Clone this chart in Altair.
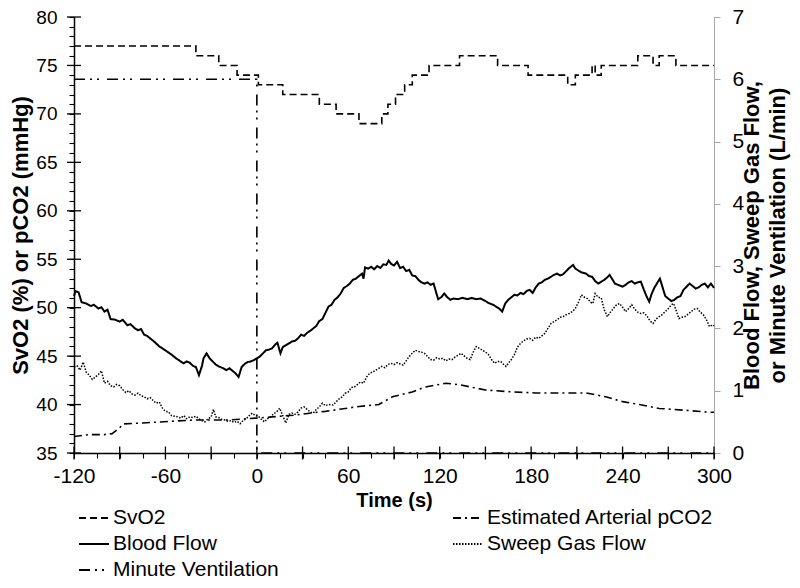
import altair as alt
import pandas as pd

# ---------------- data ----------------
series_order = ["SvO2", "Blood Flow", "Minute Ventilation", "Estimated Arterial pCO2", "Sweep Gas Flow"]
dash_ranges = [[7, 4], [1, 0], [11, 5, 2, 5, 2, 8], [8, 4, 2, 4], [1.5, 1.5]]

svo2_t = [-120, -40, -25, -13, 1, 17, 41, 52, 67, 82, 86, 91, 97, 102, 113, 133, 158, 178, 204, 209,
          220, 222, 226, 250, 260, 264, 275, 300]
svo2_v = [77, 76, 75, 74, 73, 72, 71, 70, 69, 70, 71, 72, 73, 74, 75, 76, 75, 74, 73, 74,
          75, 74, 75, 76, 75, 76, 75, 75]

pco2_t = [-120, -110, -100, -95, -90, -88, -75, -64, -42, -20, 0, 24, 45, 67, 80, 89, 102, 110, 124,
          133, 150, 168, 183, 205, 216, 229, 240, 251, 264, 282, 297, 300]
pco2_v = [36.7, 36.9, 36.9, 37.0, 37.6, 38.0, 38.1, 38.2, 38.4, 38.4, 38.6, 38.9, 39.3, 39.8, 40.0, 40.8,
          41.3, 41.8, 42.2, 42.05, 41.5, 41.3, 41.2, 41.2, 41.2, 40.8, 40.3, 40.0, 39.6, 39.4, 39.2, 39.2]

mv_t = [-120, 0, 0, 300]
mv_v = [6, 6, 0, 0]

blood_t = [-120, -119, -117, -115, -112, -109, -107, -104, -102, -100, -98, -96, -93, -90, -88, -85, -83,
           -80, -78, -76, -74, -72, -70, -67, -64, -62, -59, -56, -53, -50, -48, -46, -44, -42, -40, -38,
           -36, -35, -33, -31, -29, -27, -25, -22, -20, -18, -16, -14, -12, -10, -8, -6, -4, -2, 0, 2, 4,
           6, 8, 10, 12, 13.5, 15.5, 17, 19, 21, 23, 25, 27, 29, 31, 33, 35, 37, 39, 41, 43, 45, 47, 49,
           51, 53, 55, 57, 59, 61, 63, 65, 67, 69, 70, 71, 73, 75, 77, 79, 81, 83, 85, 86.5, 88, 90, 92,
           94, 96, 98, 100, 102, 104, 106, 108, 110, 112, 114, 116, 118, 119, 121, 123, 125, 127, 129,
           132, 135, 138, 141, 144, 147, 150, 152, 155, 157, 159, 161, 163, 165, 167, 169, 171, 173, 175,
           177, 179, 181, 183, 185, 187, 189, 191, 193, 195, 197, 199, 201, 203, 205, 207.5, 209, 211,
           213, 216, 218, 220, 222, 224, 226, 228, 230, 231.5, 233, 235, 237, 240, 242, 244, 246, 248,
           250, 252, 254, 256, 257.5, 259, 261, 263, 264.5, 266, 268, 270, 272, 274, 276, 278, 280, 282,
           284, 286, 288, 290, 292, 294, 296, 298, 300]
blood_v = [2.52, 2.60, 2.58, 2.42, 2.40, 2.36, 2.38, 2.32, 2.34, 2.27, 2.30, 2.15, 2.14, 2.11, 2.14, 2.05,
           2.07, 2.00, 1.97, 1.99, 1.90, 1.88, 1.84, 1.78, 1.71, 1.68, 1.63, 1.58, 1.52, 1.47, 1.44, 1.47,
           1.45, 1.40, 1.38, 1.25, 1.40, 1.52, 1.60, 1.52, 1.47, 1.42, 1.39, 1.36, 1.33, 1.36, 1.32, 1.28,
           1.22, 1.38, 1.43, 1.46, 1.47, 1.49, 1.52, 1.55, 1.60, 1.65, 1.66, 1.68, 1.74, 1.77, 1.60, 1.70,
           1.73, 1.76, 1.79, 1.80, 1.84, 1.90, 1.88, 1.93, 1.96, 2.00, 2.04, 2.12, 2.15, 2.25, 2.35, 2.38,
           2.46, 2.50, 2.56, 2.65, 2.68, 2.72, 2.78, 2.80, 2.84, 2.88, 2.80, 2.98, 2.96, 2.99, 2.95, 3.00,
           2.97, 3.03, 3.02, 3.09, 3.04, 3.01, 3.07, 2.97, 2.99, 2.92, 2.94, 2.85, 2.84, 2.78, 2.74, 2.72,
           2.74, 2.70, 2.72, 2.55, 2.47, 2.50, 2.56, 2.50, 2.46, 2.48, 2.47, 2.49, 2.47, 2.49, 2.47, 2.48,
           2.44, 2.41, 2.38, 2.35, 2.32, 2.27, 2.40, 2.46, 2.50, 2.54, 2.53, 2.57, 2.55, 2.60, 2.62, 2.57,
           2.66, 2.72, 2.74, 2.78, 2.80, 2.83, 2.86, 2.88, 2.85, 2.87, 2.92, 2.97, 3.02, 2.96, 2.93, 2.90,
           2.88, 2.84, 2.83, 2.76, 2.72, 2.75, 2.78, 2.82, 2.86, 2.80, 2.72, 2.70, 2.67, 2.70, 2.74, 2.76,
           2.72, 2.74, 2.75, 2.62, 2.50, 2.43, 2.55, 2.66, 2.74, 2.80, 2.68, 2.52, 2.48, 2.44, 2.46, 2.50,
           2.52, 2.62, 2.67, 2.72, 2.68, 2.64, 2.66, 2.70, 2.72, 2.66, 2.72, 2.65]

sweep_t = [-120, -118, -116, -114, -112, -110, -108, -106, -104, -102, -100, -98, -96, -94, -92, -90, -88,
           -86, -84, -82, -80, -78, -76, -74, -72, -70, -68, -66, -64, -62, -60, -58, -56, -54, -52, -50,
           -48, -46, -44, -42, -40, -38, -36, -34, -32, -30, -28.5, -27, -25, -23, -21, -19, -17, -15, -13,
           -11, -9, -7, -5, -3, -1, 1, 3, 5, 7, 9, 11, 13, 15, 17, 19, 21, 23, 25, 27, 29, 31, 33, 35, 37,
           39, 41, 43, 45, 47, 50, 52, 54, 56, 58, 60, 62, 64, 66, 68, 70, 72, 74, 76, 78, 80, 82, 84, 86,
           88, 90, 92, 94, 96, 98, 100, 102, 104, 106, 108, 110, 112, 114, 116, 118, 120, 122, 124, 126,
           128, 130, 132, 134, 136, 138, 140, 142, 144, 146, 148, 150, 152, 154, 156, 158, 160, 162, 163.5,
           165, 167, 169, 171, 173, 175, 177, 179, 181, 183, 185, 187, 189, 191, 193, 195, 197, 199, 201,
           203, 205, 207, 209, 211, 213, 215, 217, 219, 220.5, 222, 224, 226, 228, 230, 232, 234, 236, 238,
           240, 242, 244, 246, 248, 250, 252, 254, 256, 258, 260, 262, 264, 266, 268, 270, 272, 273.5, 275,
           277, 279, 281, 283, 285, 287, 289, 291, 293, 295, 297, 299, 300]
sweep_v = [1.38, 1.40, 1.33, 1.46, 1.30, 1.25, 1.18, 1.22, 1.26, 1.32, 1.12, 1.15, 1.08, 1.06, 1.10, 1.08,
           1.02, 0.97, 1.00, 0.95, 0.93, 0.96, 0.92, 0.90, 0.87, 0.89, 0.84, 0.80, 0.82, 0.72, 0.67, 0.66,
           0.60, 0.59, 0.58, 0.56, 0.60, 0.55, 0.58, 0.57, 0.59, 0.55, 0.52, 0.50, 0.55, 0.58, 0.70, 0.58,
           0.57, 0.54, 0.53, 0.51, 0.52, 0.49, 0.51, 0.47, 0.52, 0.55, 0.60, 0.64, 0.60, 0.59, 0.54, 0.50,
           0.55, 0.58, 0.63, 0.66, 0.72, 0.60, 0.48, 0.62, 0.64, 0.62, 0.66, 0.72, 0.74, 0.70, 0.66, 0.64,
           0.70, 0.74, 0.80, 0.76, 0.78, 0.77, 0.82, 0.87, 0.90, 0.96, 0.98, 1.05, 1.06, 1.10, 1.14, 1.12,
           1.22, 1.28, 1.30, 1.33, 1.36, 1.39, 1.37, 1.42, 1.44, 1.42, 1.45, 1.43, 1.41, 1.48, 1.55, 1.60,
           1.65, 1.63, 1.62, 1.60, 1.55, 1.50, 1.49, 1.53, 1.51, 1.52, 1.48, 1.51, 1.50, 1.54, 1.57, 1.60,
           1.56, 1.52, 1.50, 1.62, 1.71, 1.68, 1.65, 1.62, 1.58, 1.50, 1.44, 1.47, 1.47, 1.42, 1.39, 1.44,
           1.50, 1.58, 1.70, 1.76, 1.80, 1.83, 1.84, 1.81, 1.86, 1.84, 1.88, 1.92, 2.00, 2.08, 2.11, 2.14,
           2.18, 2.19, 2.22, 2.24, 2.27, 2.32, 2.42, 2.54, 2.50, 2.48, 2.42, 2.40, 2.56, 2.50, 2.49, 2.30,
           2.19, 2.26, 2.32, 2.38, 2.40, 2.34, 2.27, 2.32, 2.38, 2.31, 2.26, 2.24, 2.25, 2.20, 2.12, 2.08,
           2.15, 2.19, 2.22, 2.27, 2.32, 2.38, 2.40, 2.30, 2.16, 2.18, 2.19, 2.23, 2.27, 2.31, 2.32, 2.26,
           2.22, 2.14, 2.03, 2.06, 2.04]

left_major_ticks = [35, 40, 45, 50, 55, 60, 65, 70, 75, 80]
left_all_ticks = list(range(35, 81))
x_major_ticks = [-120, -90, -60, -30, 0, 30, 60, 90, 120, 150, 180, 210, 240, 270, 300]
x_all_ticks = list(range(-120, 301, 15))
right_ticks = [0, 1, 2, 3, 4, 5, 6, 7]
x_origin, y_origin = -120, 35

# ---------------- layout constants ----------------
W, H = 640, 436
ARIAL = "Liberation Sans, Arial, sans-serif"


def frame(t, v, name):
    return pd.DataFrame({"t": t, "v": v, "series": [name] * len(t)})


svo2_df = frame(svo2_t, svo2_v, "SvO2")
pco2_df = frame(pco2_t, pco2_v, "Estimated Arterial pCO2")
blood_df = frame(blood_t, blood_v, "Blood Flow")
sweep_df = frame(sweep_t, sweep_v, "Sweep Gas Flow")
mv_df = frame(mv_t, mv_v, "Minute Ventilation")
mv_df["idx"] = list(range(len(mv_df)))

lmaj_df = pd.DataFrame({"v": left_major_ticks, "t": [x_origin] * len(left_major_ticks)})
xmaj_df = pd.DataFrame({"t": x_major_ticks, "v": [y_origin] * len(x_major_ticks)})

xscale = alt.Scale(domain=[-120, 300], nice=False, zero=False)
yl_scale = alt.Scale(domain=[35, 80], nice=False, zero=False)
yr_scale = alt.Scale(domain=[0, 7], nice=False)
dash_scale = alt.Scale(domain=series_order, range=dash_ranges)

x_axis = alt.Axis(values=x_all_ticks, grid=False, title="Time (s)",
                  labelExpr="datum.value % 60 == 0 ? '' + datum.value : ''",
                  labelFlush=False, labelOverlap=False,
                  tickColor="black", tickSize=5, tickWidth=1.1,
                  labelFont=ARIAL, labelFontSize=21, labelColor="black", labelPadding=7,
                  titleFont=ARIAL, titleFontSize=20, titleFontWeight="bold", titleColor="black",
                  titlePadding=4, domainColor="black", domainWidth=1.5, zindex=1)
left_axis = alt.Axis(values=left_all_ticks, grid=False, title="SvO2 (%) or pCO2 (mmHg)",
                     labelExpr="datum.value % 5 == 0 ? '' + datum.value : ''",
                     labelFlush=False, labelOverlap=False,
                     tickColor="black", tickSize=5, tickWidth=1.1,
                     labelFont=ARIAL, labelFontSize=19, labelColor="black", labelPadding=12,
                     titleFont=ARIAL, titleFontSize=22, titleFontWeight="bold", titleColor="black",
                     titlePadding=3, domainColor="black", domainWidth=1.5, zindex=1)
right_axis = alt.Axis(values=right_ticks, orient="right", grid=False,
                      title=["Blood Flow, Sweep Gas Flow,", "or Minute Ventilation (L/min)"],
                      labelFlush=False,
                      tickColor="#a6a6a6", tickSize=6, tickWidth=1, domainColor="#a6a6a6",
                      labelFont=ARIAL, labelFontSize=21, labelColor="black", labelPadding=12,
                      titleFont=ARIAL, titleFontSize=22, titleFontWeight="bold", titleColor="black",
                      titleAngle=270, titleBaseline="top", titleAlign="center",
                      titleX=27, titleY=H / 2, titleLineHeight=26)

legend = alt.Legend(title=None, orient="none", legendX=4, legendY=485, columns=2,
                    symbolType="stroke", symbolSize=900, symbolStrokeWidth=1.8,
                    symbolStrokeColor="black", labelFont=ARIAL, labelFontSize=21,
                    labelColor="black", labelOffset=3, labelLimit=400, columnPadding=170,
                    rowPadding=0, padding=0)

dash_enc = alt.StrokeDash("series:N", scale=dash_scale, legend=legend)

X = alt.X("t:Q", scale=xscale, axis=x_axis)
YL = alt.Y("v:Q", scale=yl_scale, axis=left_axis)
YR = alt.Y("v:Q", scale=yr_scale, axis=right_axis)

svo2_line = alt.Chart(svo2_df).mark_line(interpolate="step-after", color="black", strokeWidth=1.6).encode(
    x=X, y=YL, strokeDash=dash_enc)
pco2_line = alt.Chart(pco2_df).mark_line(color="black", strokeWidth=1.6).encode(
    x=X, y=YL, strokeDash=dash_enc)

# crossing major ticks (the axis draws the outer half; these add the inner half)
lmaj = alt.Chart(lmaj_df).mark_tick(
    orient="horizontal", size=14, thickness=1.3, color="black", opacity=1).encode(x=X, y=YL)
xmaj = alt.Chart(xmaj_df).mark_tick(
    orient="vertical", size=13, thickness=1.3, color="black", opacity=1).encode(x=X, y=YL)

left_group = alt.layer(svo2_line, pco2_line, lmaj, xmaj)

blood_line = alt.Chart(blood_df).mark_line(color="black", strokeWidth=2).encode(
    x=X, y=YR, strokeDash=dash_enc)
sweep_line = alt.Chart(sweep_df).mark_line(color="black", strokeWidth=1.5).encode(
    x=X, y=YR, strokeDash=dash_enc)
mv_line = alt.Chart(mv_df).mark_line(color="black", strokeWidth=1.6).encode(
    x=X, y=YR, strokeDash=dash_enc, order=alt.Order("idx:Q"))

right_group = alt.layer(blood_line, sweep_line, mv_line)

chart = alt.layer(left_group, right_group).resolve_scale(y="independent").properties(
    width=W, height=H,
    autosize=alt.AutoSizeParams(type="none"),
    padding={"left": 66, "top": 9, "right": 78, "bottom": 127},
    background="white",
).configure_view(stroke=None)

chart.save("out.html", embed_options={"renderer": "svg", "actions": False})
